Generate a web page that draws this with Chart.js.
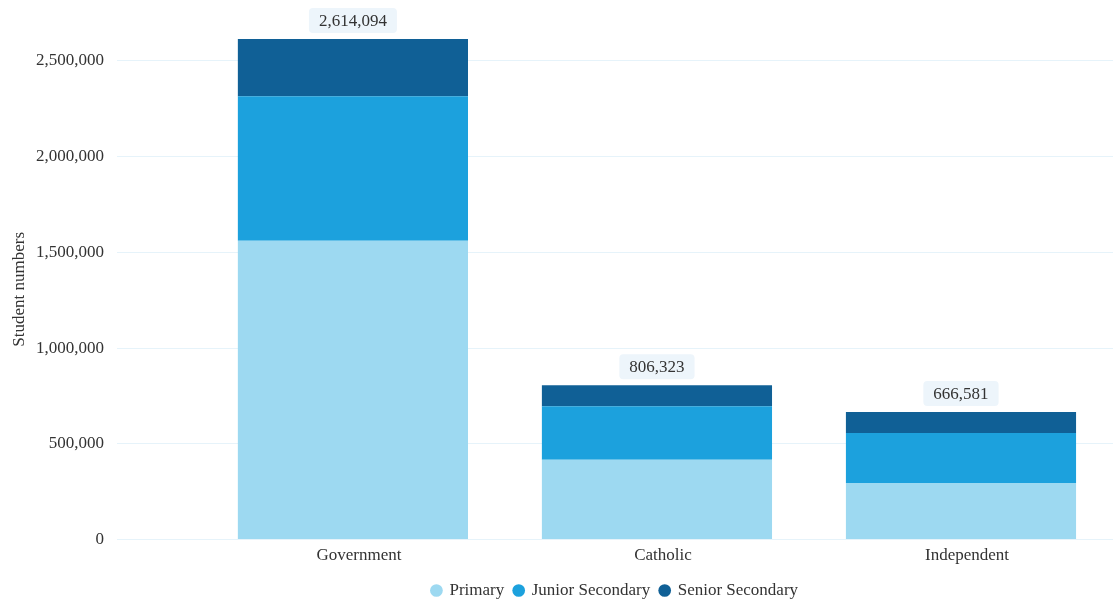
<!DOCTYPE html>
<html>
<head>
<meta charset="utf-8">
<script src="https://cdn.jsdelivr.net/npm/chart.js@4.4.1/dist/chart.umd.min.js"></script>
<style>
  html, body { margin: 0; padding: 0; background: #fff; }
  #wrap { width: 1115px; height: 599px; }
</style>
</head>
<body>
<div id="wrap"><canvas id="chart"></canvas></div>
<script>
const sectors = ['Government', 'Catholic', 'Independent'];
const primary = [1560000, 417500, 296000];
const juniorSecondary = [755000, 278500, 261000];
const seniorSecondary = [299094, 110323, 109581];
const totals = [2614094, 806323, 666581];
const yTicks = [0, 500000, 1000000, 1500000, 2000000, 2500000];

const fontFamily = '"Liberation Serif", "Times New Roman", serif';

window.addEventListener('load', () => {
    buildEnrolmentChart();
});

function toPoints(values) {
    return values.map((v, i) => ({ x: i, y: v }));
}

const totalLabels = {
    id: 'totalLabels',
    afterDatasetsDraw(chart) {
        const ctx = chart.ctx;
        const xScale = chart.scales.x;
        const yScale = chart.scales.y;
        ctx.save();
        ctx.font = '17px ' + fontFamily;
        ctx.textAlign = 'center';
        ctx.textBaseline = 'middle';
        totals.forEach((t, i) => {
            const text = t.toLocaleString('en-US');
            const cx = xScale.getPixelForValue(i);
            const top = yScale.getPixelForValue(t);
            const w = ctx.measureText(text).width + 20;
            const h = 25;
            const by = top - 6 - h;
            ctx.fillStyle = '#edf5fb';
            ctx.beginPath();
            ctx.roundRect(cx - w / 2, by, w, h, 4);
            ctx.fill();
            ctx.fillStyle = '#333333';
            ctx.fillText(text, cx, by + h / 2 + 1);
        });
        ctx.restore();
    }
};

function buildEnrolmentChart() {
    const chartCtx = document.getElementById('chart').getContext('2d');

    new Chart(chartCtx, {
        type: 'bar',
        data: {
            datasets: [{
                label: 'Primary',
                data: toPoints(primary),
                backgroundColor: '#9dd9f1',
                hoverBackgroundColor: '#9dd9f1'
            }, {
                label: 'Junior Secondary',
                data: toPoints(juniorSecondary),
                backgroundColor: '#1ca1dd',
                hoverBackgroundColor: '#1ca1dd'
            }, {
                label: 'Senior Secondary',
                data: toPoints(seniorSecondary),
                backgroundColor: '#106096',
                hoverBackgroundColor: '#106096'
            }]
        },
        options: {
            responsive: true,
            maintainAspectRatio: false,
            animation: false,
            categoryPercentage: 1,
            barPercentage: 0.757,
            layout: {
                padding: { top: 39, right: 2, left: 9, bottom: -10 }
            },
            plugins: {
                legend: {
                    position: 'bottom',
                    fullSize: false,
                    labels: {
                        usePointStyle: true,
                        pointStyle: 'circle',
                        boxWidth: 9,
                        boxHeight: 9,
                        padding: 10,
                        color: '#333333',
                        font: { family: fontFamily, size: 17 }
                    }
                },
                tooltip: { enabled: false }
            },
            scales: {
                x: {
                    type: 'linear',
                    stacked: true,
                    min: -0.776,
                    max: 2.5,
                    offset: false,
                    afterBuildTicks: axis => {
                        axis.ticks = sectors.map((s, i) => ({ value: i }));
                    },
                    ticks: {
                        color: '#333333',
                        font: { family: fontFamily, size: 17 },
                        padding: 6,
                        labelOffset: 6,
                        callback: v => sectors[v]
                    },
                    grid: { display: false, drawTicks: false },
                    border: { display: false }
                },
                y: {
                    stacked: true,
                    min: 0,
                    max: 2614094,
                    afterBuildTicks: axis => {
                        axis.ticks = yTicks.map(v => ({ value: v }));
                    },
                    afterFit: axis => {
                        axis.width = 108;
                    },
                    title: {
                        display: true,
                        text: 'Student numbers',
                        color: '#333333',
                        font: { family: fontFamily, size: 17 },
                        padding: 0
                    },
                    ticks: {
                        color: '#333333',
                        font: { family: fontFamily, size: 17 },
                        padding: 13,
                        callback: v => v.toLocaleString('en-US')
                    },
                    grid: {
                        color: '#e6f3fa',
                        drawTicks: false
                    },
                    border: { display: false }
                }
            }
        },
        plugins: [totalLabels]
    });
}
</script>
</body>
</html>
